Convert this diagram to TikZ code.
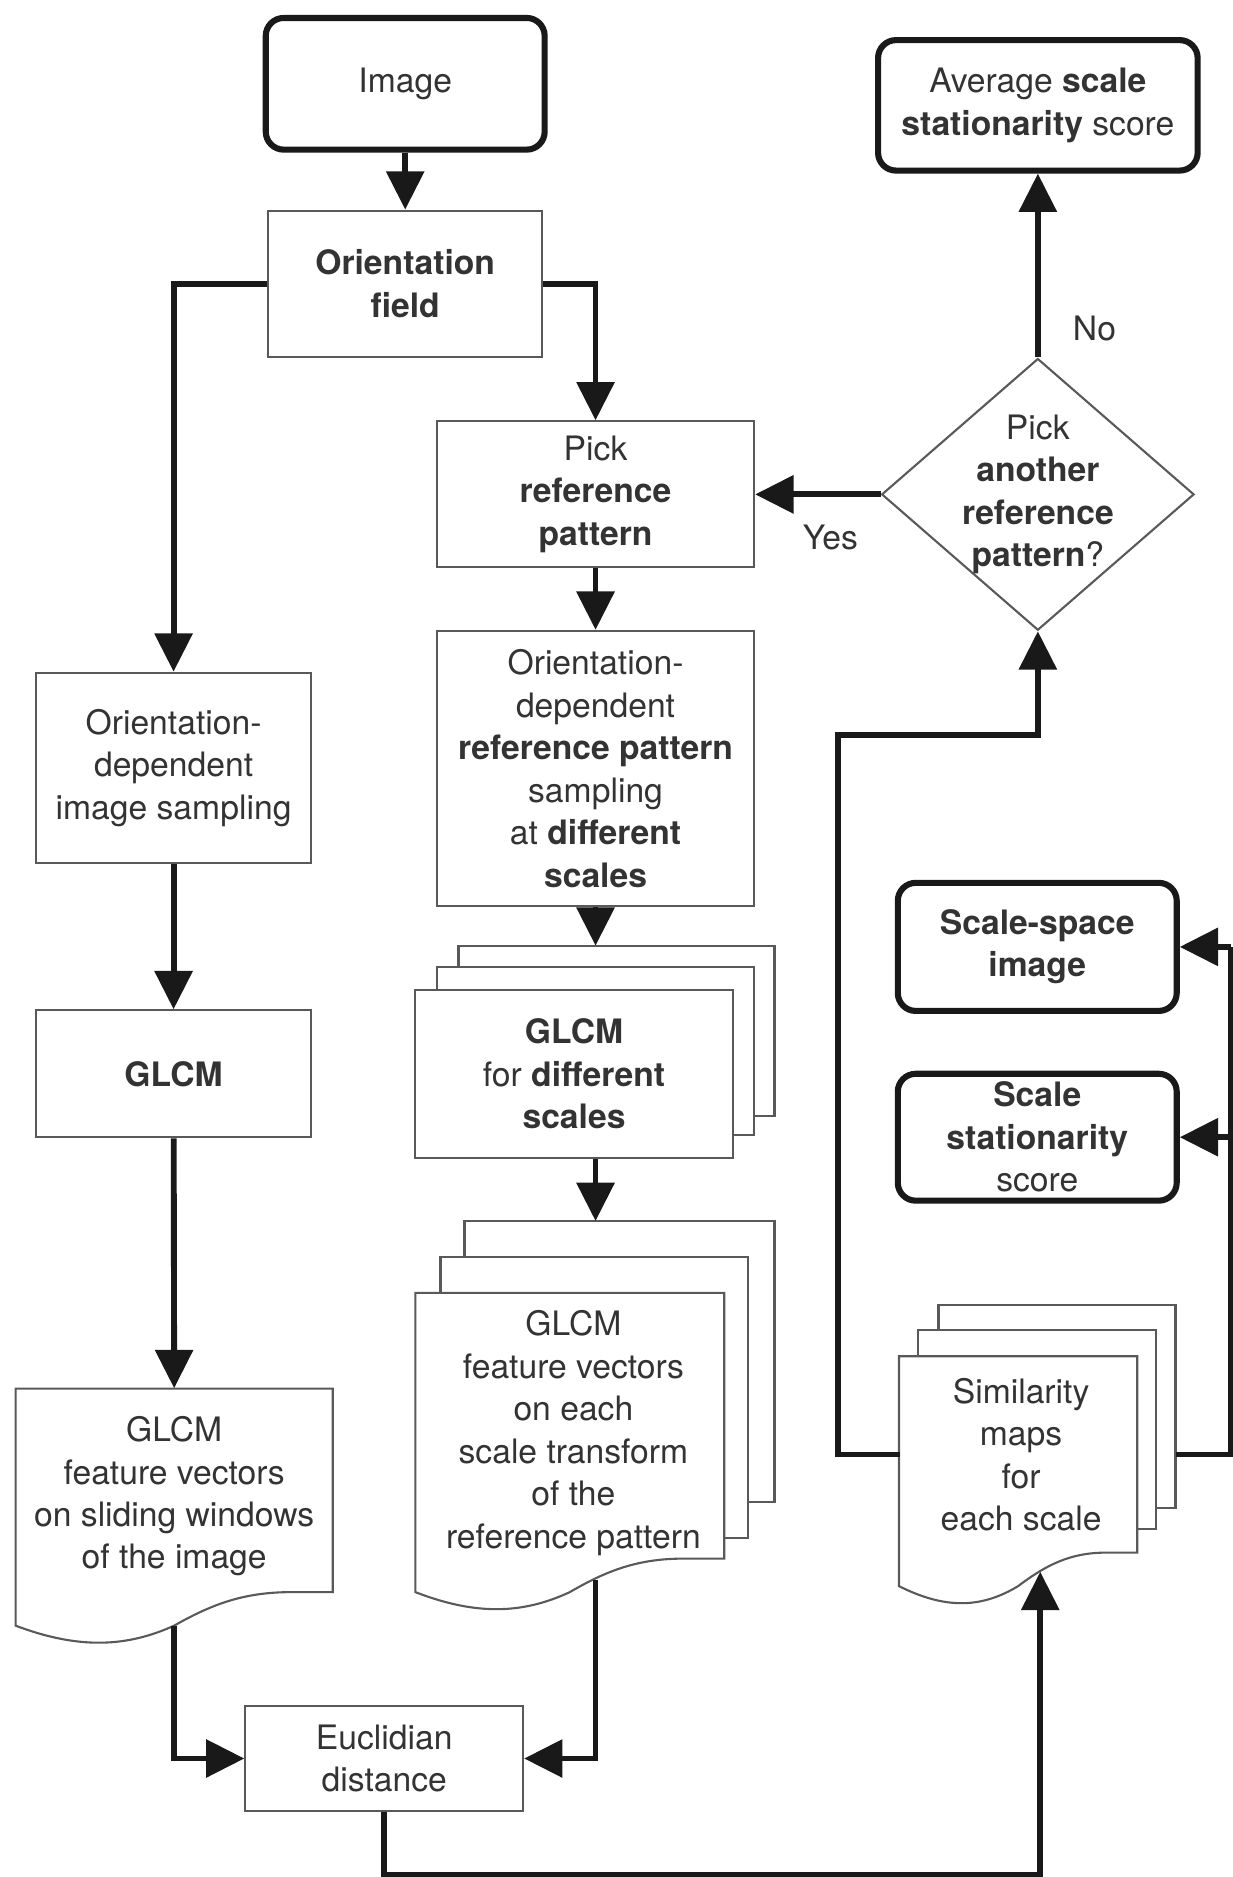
\documentclass[tikz,border=0pt]{standalone}
\usepackage{fontspec}
\setmainfont{TeX Gyre Heros}
\usetikzlibrary{arrows.meta,shapes.geometric}
\tikzset{
  box/.style={draw=black!65,line width=1pt,fill=white,align=center,text=black!80,inner sep=0pt},
  endbox/.style={draw=black!90,line width=2.9pt,rounded corners=0.3cm,fill=white,align=center,text=black!80,inner sep=0pt},
  sheet/.style={draw=black!65,line width=1pt,fill=white},
  link/.style={line width=2.8pt,black!90},
  flow/.style={link,-{Triangle[length=0.64cm,width=0.62cm]}},
}
\newcommand{\docsheet}[4]{%
  \draw[sheet] (#1,#2) -- (#3,#2) -- (#3,#4+28)
    -- ({#1+0.87*(#3-#1)},#4+28)
    .. controls ({#1+0.72*(#3-#1)},#4+28) and ({#1+0.62*(#3-#1)},#4+18) .. ({#1+0.5*(#3-#1)},#4)
    .. controls ({#1+0.35*(#3-#1)},#4-18) and ({#1+0.2*(#3-#1)},#4-20) .. (#1,#4) -- cycle;}
\begin{document}
\begin{tikzpicture}[x=0.2mm,y=0.2mm,font=\fontsize{16}{20.2}\selectfont]
  \useasboundingbox (0,0) rectangle (1030,-1568);
  \node[endbox,minimum width=4.66cm,minimum height=2.2cm] (img) at (338.5,-70) {Image};
  \node[box,minimum width=4.58cm,minimum height=2.44cm] (orient) at (338.5,-237) {\textbf{Orientation}\\\textbf{field}};
  \node[box,minimum width=5.3cm,minimum height=2.44cm] (pickref) at (497.5,-413) {Pick\\\textbf{reference}\\\textbf{pattern}};
  \node[draw=black!65,line width=1pt,diamond,inner sep=0pt,minimum width=5.22cm,minimum height=4.54cm] (decide) at (867,-413) {};
  \node[align=center,text=black!80] (decidetxt) at (decide.center) {Pick\\\textbf{another}\\\textbf{reference}\\\textbf{pattern}?};
  \node[endbox,minimum width=5.34cm,minimum height=2.18cm] (avg) at (867,-88) {Average \textbf{scale}\\\textbf{stationarity} score};
  \node[box,minimum width=5.3cm,minimum height=4.6cm] (refsamp) at (497.5,-642) {Orientation-\\dependent\\\textbf{reference pattern}\\sampling\\at \textbf{different}\\\textbf{scales}};

  \draw[sheet] (383,-790) rectangle (647,-932);
  \draw[sheet] (365,-808) rectangle (630,-948);
  \node[box,minimum width=5.3cm,minimum height=2.8cm] (glcmref) at (479.5,-897) {\textbf{GLCM}\\for \textbf{different}\\\textbf{scales}};

  \draw[sheet] (388,-1020) rectangle (647,-1255);
  \draw[sheet] (368,-1050) rectangle (625,-1285);
  \docsheet{347}{-1080}{605}{-1330}
  \node[align=center,text=black!80] (fvref) at (479,-1197) {GLCM\\feature vectors\\on each\\scale transform\\of the\\reference pattern};

  \node[box,minimum width=4.6cm,minimum height=3.18cm] (imgsamp) at (145,-641.5) {Orientation-\\dependent\\image sampling};
  \node[box,minimum width=4.6cm,minimum height=2.12cm] (glcmimg) at (145,-897) {\textbf{GLCM}};
  \docsheet{13}{-1160}{278}{-1358}
  \node[align=center,text=black!80,minimum height=3.6cm] (fvimg) at (145.5,-1250) {GLCM\\feature vectors\\on sliding windows\\of the image};
  \node[box,minimum width=4.64cm,minimum height=1.76cm] (eucl) at (321,-1469) {Euclidian\\distance};

  \draw[sheet] (784,-1090) rectangle (982,-1260);
  \draw[sheet] (767,-1111) rectangle (966,-1277);
  \docsheet{751}{-1133}{950}{-1325}
  \node[align=center,text=black!80,minimum width=4.04cm] (simmap) at (853,-1215) {Similarity\\maps\\for\\each scale};
  \node[endbox,minimum width=4.66cm,minimum height=2.14cm] (ssimg) at (866.5,-791) {\textbf{Scale-space}\\\textbf{image}};
  \node[endbox,minimum width=4.66cm,minimum height=2.12cm] (sscore) at (866.5,-950) {\textbf{Scale}\\\textbf{stationarity}\\score};

  \coordinate (glcmtop) at (497.5,-790);
  \coordinate (fvtop) at (497.5,-1020);
  \coordinate (fvrefout) at (497.5,-1320);
  \coordinate (fvimgout) at (145,-1358);
  \coordinate (simin) at (869,-1313);
  \coordinate (simright) at (982,-1215);
  \coordinate (loop) at (700,-614);
  \coordinate (railtop) at (1028,-791);
  \coordinate (railmid) at (1028,-950);

  \draw[flow] (img) -- (orient);
  \draw[flow] (orient.west) -| (imgsamp.north);
  \draw[flow] (orient.east) -| (pickref.north);
  \draw[flow] (decide.west) -- node[pos=0.4,anchor=north,yshift=-0.34cm,text=black!80] {Yes} (pickref.east);
  \draw[flow] (decide.north) -- node[pos=0.16,anchor=west,xshift=0.42cm,text=black!80] {No} (avg.south);
  \draw[flow] (pickref) -- (refsamp);
  \draw[flow] (refsamp.south) -- (glcmtop);
  \draw[flow] (glcmref.south -| glcmtop) -- (fvtop);
  \draw[flow] (imgsamp) -- (glcmimg);
  \draw[flow] (glcmimg) -- (fvimg.north);
  \draw[flow] (fvimgout) |- (eucl.west);
  \draw[flow] (fvrefout) |- (eucl.east);
  \draw[flow] (eucl.south) -- ++(0,-52) -| (simin);
  \draw[flow] (simmap.west) -| (loop) -| (decide.south);
  \draw[link] (simright) -| (railtop);
  \draw[flow] (railtop) -- (ssimg.east);
  \draw[flow] (railmid) -- (sscore.east);
\end{tikzpicture}
\end{document}
